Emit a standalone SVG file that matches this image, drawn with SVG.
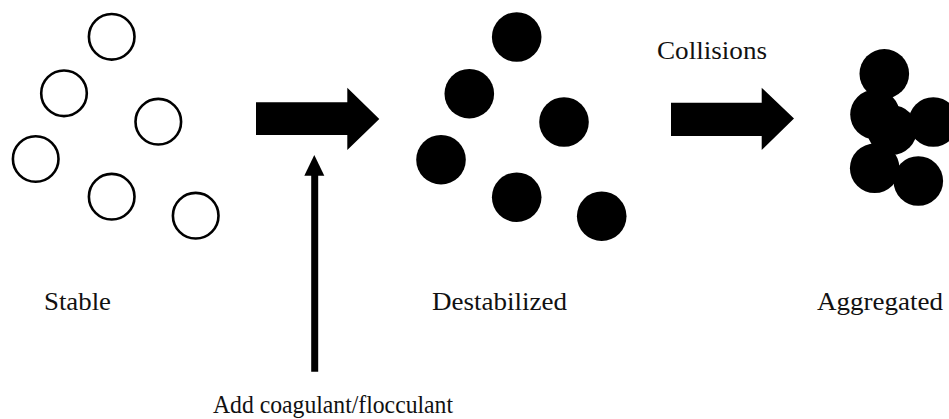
<svg xmlns="http://www.w3.org/2000/svg" width="949" height="419" viewBox="0 0 949 419">
<style>
.open{fill:#fff;stroke:#000;stroke-width:2.6}
.solid{fill:#000}
.lbl{font-family:"Liberation Serif","DejaVu Serif",serif;font-size:26px;fill:#111}
.big{fill:#000}
</style>
<rect width="949" height="419" fill="#fff"/>
<g id="stable">
<circle class="open" cx="111.7" cy="36.8" r="22.8"/>
<circle class="open" cx="64" cy="93.3" r="22.8"/>
<circle class="open" cx="158.3" cy="121.7" r="22.8"/>
<circle class="open" cx="35.7" cy="159" r="22.8"/>
<circle class="open" cx="111.7" cy="196.7" r="22.8"/>
<circle class="open" cx="195.7" cy="215.7" r="22.8"/>
<text class="lbl" x="44" y="310" textLength="67" lengthAdjust="spacingAndGlyphs">Stable</text>
</g>
<g id="destabilized">
<circle class="solid" cx="516.7" cy="37" r="24.8"/>
<circle class="solid" cx="469.3" cy="93.7" r="24.8"/>
<circle class="solid" cx="564" cy="122" r="24.8"/>
<circle class="solid" cx="441" cy="159.7" r="24.8"/>
<circle class="solid" cx="516.7" cy="197.2" r="24.8"/>
<circle class="solid" cx="601.7" cy="216.2" r="24.8"/>
<text class="lbl" x="432" y="310" textLength="135" lengthAdjust="spacingAndGlyphs">Destabilized</text>
</g>
<g id="aggregated">
<circle class="solid" cx="884.3" cy="73.8" r="24.8"/>
<circle class="solid" cx="875" cy="114.5" r="24.8"/>
<circle class="solid" cx="933.3" cy="122" r="24.8"/>
<circle class="solid" cx="892" cy="130" r="24.8"/>
<circle class="solid" cx="874.7" cy="168.3" r="24.8"/>
<circle class="solid" cx="918.3" cy="181" r="24.8"/>
<text class="lbl" x="817" y="309.5" textLength="126" lengthAdjust="spacingAndGlyphs">Aggregated</text>
</g>
<g id="collisions-label">
<text class="lbl" x="657" y="59.3" textLength="110" lengthAdjust="spacingAndGlyphs">Collisions</text>
</g>
<g id="coagulant-label">
<text class="lbl" x="213" y="412.5" textLength="240" lengthAdjust="spacingAndGlyphs">Add coagulant/flocculant</text>
</g>
<g id="connectors">
<polygon class="big" points="256,102.3 347.3,102.3 347.3,87.7 379.3,119 347.3,150 347.3,135 256,135"/>
<polygon class="big" points="671,102.7 761.7,102.7 761.7,87.7 794,118.5 761.7,150 761.7,136 671,136"/>
<line x1="314.7" y1="371.7" x2="314.7" y2="172" stroke="#000" stroke-width="7"/>
<polygon class="big" points="314.3,155 324.3,175.7 304.3,175.7"/>
</g>
</svg>
